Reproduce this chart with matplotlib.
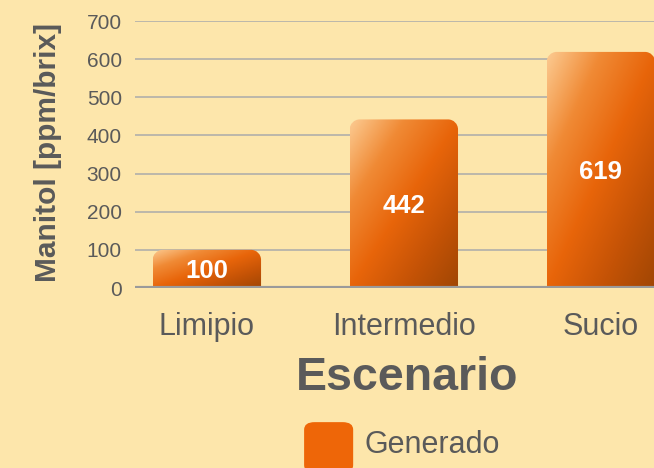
import numpy as np
import matplotlib
matplotlib.use('Agg')
import matplotlib.pyplot as plt
from matplotlib.path import Path
from matplotlib.patches import PathPatch, FancyBboxPatch
from matplotlib.colors import LinearSegmentedColormap

# datos
escenarios = ['Limipio', 'Intermedio', 'Sucio']
manitol = [100, 442, 619]
yticks = [0, 100, 200, 300, 400, 500, 600, 700]
serie = 'Generado'

bg = '#FDE6AB'
gris = '#5a5a5a'
plt.rcParams['font.family'] = ['Liberation Sans', 'DejaVu Sans']

fig = plt.figure(figsize=(6.54, 4.68), dpi=100, facecolor=bg)
ax = fig.add_axes([0.2064, 0.3846, 0.7936, 0.5705])
ax.set_facecolor(bg)

x = np.arange(len(escenarios))
ancho = 0.55

for s in ['top', 'right', 'left', 'bottom']:
    ax.spines[s].set_visible(False)
ax.set_yticks(yticks)
ax.yaxis.grid(True, color='#aaaaaa', linewidth=1.1)
ax.set_axisbelow(True)
ax.tick_params(axis='y', length=0, pad=9.5, labelsize=15, labelcolor=gris)
ax.tick_params(axis='x', length=0, pad=17, labelsize=22, labelcolor=gris)
ax.set_xticks(x)
ax.set_xticklabels(escenarios)
ax.axhline(0, color='#9a9a9a', linewidth=3, zorder=4)

cmap = LinearSegmentedColormap.from_list('naranja', ['#FCCB92', '#F08A35', '#E8650A', '#C55306', '#A04604'])
grad = np.add.outer(np.linspace(0, 1, 200), np.linspace(0, 1, 200)) / 2

# radio de esquina en unidades de datos (aprox 10 px)
rx = 10 / 197
ry = 10 / 0.3814
k = 0.5523
for xi, v in zip(x, manitol):
    x0, x1 = xi - ancho / 2, xi + ancho / 2
    verts = [(x0, 0), (x0, v - ry),
             (x0, v - ry + k * ry), (x0 + rx - k * rx, v), (x0 + rx, v),
             (x1 - rx, v),
             (x1 - rx + k * rx, v), (x1, v - ry + k * ry), (x1, v - ry),
             (x1, 0), (x0, 0)]
    codes = [Path.MOVETO, Path.LINETO,
             Path.CURVE4, Path.CURVE4, Path.CURVE4,
             Path.LINETO,
             Path.CURVE4, Path.CURVE4, Path.CURVE4,
             Path.LINETO, Path.CLOSEPOLY]
    patch = PathPatch(Path(verts, codes), facecolor='none', edgecolor='none', zorder=3)
    ax.add_patch(patch)
    im = ax.imshow(grad, cmap=cmap, extent=[x0, x1, 0, v], origin='upper',
                   aspect='auto', zorder=3, interpolation='bilinear')
    im.set_clip_path(patch)
    ax.text(xi, v / 2, str(v), ha='center', va='center_baseline', color='white',
            fontsize=18.5, fontweight='bold', zorder=5)

ax.set_xlim(-0.365, 2.27)
ax.set_ylim(0, 700)

fig.text(0.073, 0.675, 'Manitol [ppm/brix]', rotation=90, ha='center', va='center',
         fontsize=21.5, fontweight='bold', color=gris)
fig.text(0.622, 0.192, 'Escenario', ha='center', va='center',
         fontsize=33.5, fontweight='bold', color=gris)

# leyenda
fig.patches.append(FancyBboxPatch((0.465, -0.01), 0.075, 0.108,
                                  boxstyle='round,pad=0,rounding_size=0.016',
                                  transform=fig.transFigure, facecolor='#EE6608',
                                  edgecolor='none', figure=fig))
fig.text(0.558, 0.049, serie, ha='left', va='center', fontsize=22, color=gris)

fig.savefig('out.png', dpi=100, facecolor=bg)
